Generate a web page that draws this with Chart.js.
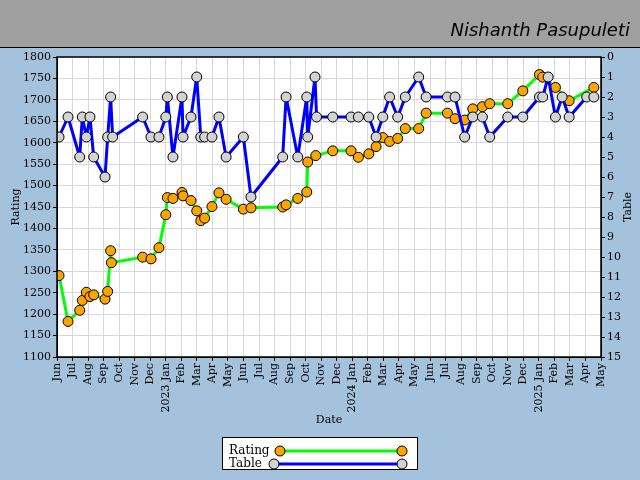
<!DOCTYPE html>
<html><head><meta charset="utf-8">
<script src="https://cdn.jsdelivr.net/npm/chart.js@4/dist/chart.umd.min.js"></script>
<style>html,body{margin:0;padding:0;background:#a5c2dc}#w{width:640px;height:480px}</style>
</head><body><div id="w"><canvas id="c"></canvas></div>
<script>
// months since Jun 2022 (0 = Jun 2022, 35 = May 2025)
const monthLabels = ["Jun","Jul","Aug","Sep","Oct","Nov","Dec","2023 Jan","Feb","Mar","Apr","May","Jun","Jul","Aug","Sep","Oct","Nov","Dec","2024 Jan","Feb","Mar","Apr","May","Jun","Jul","Aug","Sep","Oct","Nov","Dec","2025 Jan","Feb","Mar","Apr","May"];
const ratingDates = [0.13,0.71,1.46,1.63,1.89,2.12,2.36,3.09,3.26,3.45,3.5,5.51,6.05,6.56,7.0,7.1,7.46,8.04,8.11,8.62,8.99,9.25,9.5,9.97,10.42,10.88,11.99,12.48,14.52,14.74,15.49,16.07,16.13,16.65,17.74,18.92,19.39,20.06,20.53,20.96,21.4,21.92,22.41,23.27,23.75,25.12,25.61,26.23,26.75,27.37,27.84,29.0,29.97,31.04,31.25,32.07,32.95,34.54];
const ratingValues = [1290,1183,1209,1232,1251,1241,1245,1235,1253,1348,1320,1333,1329,1355,1432,1472,1470,1484,1476,1465,1441,1418,1424,1451,1483,1468,1445,1448,1450,1455,1470,1485,1555,1570,1581,1581,1566,1574,1591,1612,1603,1610,1633,1633,1669,1669,1656,1653,1679,1684,1691,1691,1721,1759,1753,1729,1698,1729];
const tableDates = [0.13,0.71,1.46,1.63,1.89,2.12,2.36,3.09,3.26,3.45,3.58,5.51,6.05,6.56,7.0,7.1,7.46,8.04,8.11,8.62,8.99,9.25,9.5,9.97,10.42,10.88,11.99,12.48,14.52,14.74,15.49,16.07,16.13,16.6,16.7,17.74,18.92,19.39,20.06,20.53,20.96,21.4,21.92,22.41,23.27,23.75,25.12,25.61,26.23,26.75,27.37,27.84,29.0,29.97,31.04,31.25,31.6,32.07,32.5,32.95,34.08,34.54];
const tableValues = [4,3,5,3,4,3,5,6,4,2,4,3,4,4,3,2,5,2,4,3,1,4,4,4,3,5,4,7,5,2,5,2,4,1,3,3,3,3,3,4,3,2,3,2,1,2,2,2,4,3,3,4,3,3,2,2,1,3,2,3,2,2];

const pts = (xs, ys) => xs.map((x, i) => ({x, y: ys[i]}));
const F = "'DejaVu Serif', serif";

const deco = {
  id: 'deco',
  beforeDraw(ch) {
    const c = ch.ctx;
    c.save();
    c.fillStyle = '#a5c2dc'; c.fillRect(0, 0, 640, 480);
    c.fillStyle = '#a0a0a0'; c.fillRect(0, 0, 640, 47);
    c.strokeStyle = '#000'; c.lineWidth = 1;
    c.beginPath(); c.moveTo(0, 47.5); c.lineTo(640, 47.5); c.stroke();
    c.fillStyle = '#000'; c.font = "italic 18px 'DejaVu Sans'"; c.textAlign = 'right';
    c.fillText('Nishanth Pasupuleti', 630, 36);
    const a = ch.chartArea;
    c.fillStyle = '#fff'; c.fillRect(a.left, a.top, a.right - a.left, a.bottom - a.top);
    c.restore();
  },
  afterDraw(ch) {
    const c = ch.ctx, a = ch.chartArea;
    c.save();
    c.strokeStyle = '#000'; c.lineWidth = 1.5;
    c.strokeRect(a.left, a.top, a.right - a.left, a.bottom - a.top);
    // right axis title, reading bottom-to-top
    c.save(); c.translate(628, (a.top + a.bottom) / 2); c.rotate(-Math.PI / 2);
    c.fillStyle = '#000'; c.font = "11px " + F; c.textAlign = 'center'; c.textBaseline = 'middle';
    c.fillText('Table', 0, 0); c.restore();
    // legend
    c.fillStyle = '#fff'; c.fillRect(222, 437, 196, 33);
    c.lineWidth = 1; c.strokeRect(222.5, 437.5, 195, 32);
    c.fillStyle = '#000'; c.font = "12px " + F; c.textAlign = 'left'; c.textBaseline = 'middle';
    c.fillText('Rating', 229, 451); c.fillText('Table', 229, 464);
    const row = (x1, x2, y, col, fill) => {
      c.strokeStyle = col; c.lineWidth = 3;
      c.beginPath(); c.moveTo(x1, y); c.lineTo(x2, y); c.stroke();
      c.lineWidth = 1; c.strokeStyle = '#000'; c.fillStyle = fill;
      [x1, x2].forEach(x => { c.beginPath(); c.arc(x, y, 5, 0, 2 * Math.PI); c.fill(); c.stroke(); });
    };
    row(280, 402, 451, '#00ff00', '#ffa500');
    row(274, 402, 464, '#0000ff', '#d3d3d3');
    c.restore();
  }
};

new Chart(document.getElementById('c'), {
  type: 'line',
  data: { datasets: [
    { label: 'Table', data: pts(tableDates, tableValues), yAxisID: 'y2', order: 0,
      borderColor: '#0000ff', borderWidth: 3, borderJoinStyle: 'round', backgroundColor: '#d3d3d3', pointBackgroundColor: '#d3d3d3',
      pointBorderColor: '#000', pointBorderWidth: 1, pointRadius: 5, tension: 0 },
    { label: 'Rating', data: pts(ratingDates, ratingValues), yAxisID: 'y', order: 1,
      borderColor: '#00ff00', borderWidth: 3, borderJoinStyle: 'round', backgroundColor: '#ffa500', pointBackgroundColor: '#ffa500',
      pointBorderColor: '#000', pointBorderWidth: 1, pointRadius: 5, tension: 0 }
  ]},
  options: {
    responsive: true, maintainAspectRatio: false, animation: false,
    layout: { padding: { top: 57, left: 10, right: 8, bottom: 53 } },
    plugins: { legend: { display: false }, tooltip: { enabled: false } },
    scales: {
      x: { type: 'linear', min: 0, max: 35,
        afterFit(s) { s.height = 70; },
        ticks: { stepSize: 1, autoSkip: false, maxRotation: 90, minRotation: 90, color: '#000',
          font: { family: F, size: 11 }, padding: 2,
          callback: v => monthLabels[v] ?? '' },
        grid: { color: '#d8d8d8', tickColor: '#000', tickLength: 4 },
        border: { color: '#000' },
        title: { display: true, text: 'Date', color: '#000', font: { family: F, size: 11 }, padding: 0 } },
      y: { position: 'left', min: 1100, max: 1800,
        afterFit(s) { s.width = 47; },
        ticks: { stepSize: 50, color: '#000', font: { family: F, size: 11 }, padding: 2, callback: v => String(v) },
        grid: { color: '#d8d8d8', tickColor: '#000', tickLength: 4 },
        border: { color: '#000' },
        title: { display: true, text: 'Rating', color: '#000', font: { family: F, size: 11 }, padding: 0 } },
      y2: { position: 'right', min: 0, max: 15, reverse: true,
        afterFit(s) { s.width = 31; },
        ticks: { stepSize: 1, color: '#000', font: { family: F, size: 11 }, padding: 2 },
        grid: { drawOnChartArea: false, tickColor: '#000', tickLength: 4 },
        border: { color: '#000' },
        title: { display: false } }
    }
  },
  plugins: [deco]
});
</script></body></html>
